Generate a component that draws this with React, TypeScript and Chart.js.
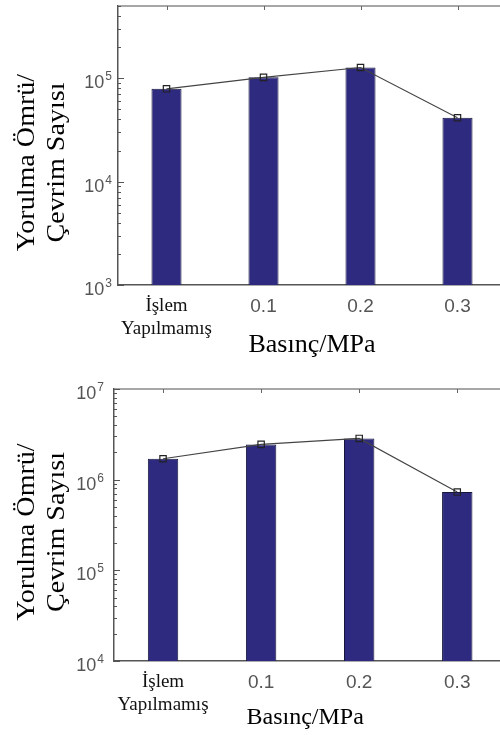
import React, { useEffect, useRef } from 'react';
import { Chart, registerables } from 'chart.js';

Chart.register(...registerables);

// ---- data ----
const categories: (string | string[])[] = [['İşlem', 'Yapılmamış'], '0.1', '0.2', '0.3'];
const topLife = [79000, 102000, 127000, 41500];
const bottomLife = [1700000, 2450000, 2850000, 730000];
const topRange = [1e3, 5e5];
const bottomRange = [1e4, 1e7];
const tickBase = '10';
const topTickValues = [1e3, 1e4, 1e5];
const topTickExponents = ['3', '4', '5'];
const bottomTickValues = [1e4, 1e5, 1e6, 1e7];
const bottomTickExponents = ['4', '5', '6', '7'];
const yTitleLines = ['Yorulma Ömrü/', 'Çevrim Sayısı'];
const xTitleText = 'Basınç/MPa';

const SANS = '"Liberation Sans", Arial, Helvetica, sans-serif';
const SERIF = '"Liberation Serif", "Times New Roman", Times, serif';

type Layout = {
  canvasTop: number;
  height: number;
  padTop: number;
  padRight: number;
  yWidth: number;
  xHeight: number;
  labelGap: number;
  yTitleShift: number;
  xTitleShiftX: number;
  xTitleShiftY: number;
  xTitleSize: number;
};

function makeDecor(tickValues: number[], tickExps: string[], L: Layout) {
  return {
    id: 'decor',
    afterDraw(chart: any) {
      const { ctx, chartArea: a, scales } = chart;
      const x = scales.x;
      const y = scales.y;
      ctx.save();
      // top frame line
      ctx.strokeStyle = '#8a8a8a';
      ctx.lineWidth = 1.5;
      ctx.beginPath();
      ctx.moveTo(a.left, a.top);
      ctx.lineTo(a.right + 10, a.top);
      ctx.stroke();
      // top category ticks
      ctx.strokeStyle = '#666';
      ctx.lineWidth = 1;
      x.ticks.forEach((_: any, i: number) => {
        const px = Math.round(x.getPixelForTick(i)) + 0.5;
        ctx.beginPath();
        ctx.moveTo(px, a.top);
        ctx.lineTo(px, a.top + 4);
        ctx.stroke();
      });
      // y minor / major ticks inside
      const lo = Math.floor(Math.log10(y.min));
      const hi = Math.ceil(Math.log10(y.max));
      ctx.strokeStyle = '#555';
      for (let e = lo; e <= hi; e++) {
        for (let k = 1; k <= 9; k++) {
          const v = k * Math.pow(10, e);
          if (v < y.min * 0.999 || v > y.max * 1.001) continue;
          const py = Math.round(y.getPixelForValue(v)) + 0.5;
          const len = k === 1 ? 6 : 3;
          ctx.beginPath();
          ctx.moveTo(a.left, py);
          ctx.lineTo(a.left + len, py);
          ctx.stroke();
        }
      }
      // y tick labels with superscript
      ctx.fillStyle = '#555';
      ctx.textAlign = 'left';
      ctx.textBaseline = 'alphabetic';
      tickValues.forEach((v, i) => {
        const py = y.getPixelForValue(v);
        ctx.font = `12px ${SANS}`;
        const ew = ctx.measureText(tickExps[i]).width;
        ctx.font = `18px ${SANS}`;
        const bw = ctx.measureText(tickBase).width;
        const right = a.left - L.labelGap;
        ctx.fillText(tickBase, right - ew - bw - 1, py + 10);
        ctx.font = `12px ${SANS}`;
        ctx.fillText(tickExps[i], right - ew, py + 2);
      });
      // y title
      ctx.fillStyle = '#000';
      ctx.font = `26px ${SERIF}`;
      ctx.textAlign = 'center';
      ctx.textBaseline = 'middle';
      const cy = (a.top + a.bottom) / 2 + L.yTitleShift;
      const xs = [27, 57];
      yTitleLines.forEach((line, i) => {
        ctx.save();
        ctx.translate(xs[i], cy);
        ctx.rotate(-Math.PI / 2);
        ctx.scale(1.08, 1);
        ctx.fillText(line, 0, 0);
        ctx.restore();
      });
      // x title
      ctx.font = `${L.xTitleSize}px ${SERIF}`;
      ctx.fillText(xTitleText, (a.left + a.right) / 2 + L.xTitleShiftX, a.bottom + L.xTitleShiftY);
      ctx.restore();
    },
  };
}

function Panel(props: {
  values: number[];
  range: number[];
  tickValues: number[];
  tickExps: string[];
  L: Layout;
}) {
  const ref = useRef<HTMLCanvasElement>(null);
  const { values, range, tickValues, tickExps, L } = props;
  useEffect(() => {
    const chart = new Chart(ref.current as HTMLCanvasElement, {
      type: 'bar',
      data: {
        labels: categories as any,
        datasets: [
          {
            type: 'line',
            data: values,
            borderColor: '#444',
            borderWidth: 1.1,
            pointStyle: 'rect',
            pointRadius: 4.5,
            pointBorderColor: '#222',
            pointBackgroundColor: 'rgba(0,0,0,0)',
            pointBorderWidth: 1.2,
            tension: 0,
            order: 0,
          } as any,
          {
            type: 'bar',
            data: values,
            backgroundColor: '#2e2a80',
            borderColor: '#17163d',
            borderWidth: 1,
            barPercentage: 0.31,
            categoryPercentage: 1,
            order: 1,
          } as any,
        ],
      },
      options: {
        responsive: false,
        animation: false,
        devicePixelRatio: 1,
        layout: { padding: { left: 0, top: L.padTop, right: L.padRight, bottom: 0 } },
        plugins: { legend: { display: false }, tooltip: { enabled: false } },
        scales: {
          x: {
            type: 'category',
            grid: { display: false, drawTicks: false },
            border: { display: true, color: '#555', width: 1.5 },
            ticks: {
              padding: 10,
              maxRotation: 0,
              autoSkip: false,
              font: (c: any) =>
                c.index === 0
                  ? { family: SERIF, size: 19, lineHeight: 1.2 }
                  : { family: SANS, size: 19, lineHeight: 1.2 },
              color: (c: any) => (c.index === 0 ? '#111' : '#555'),
            },
            afterFit: (s: any) => {
              s.height = L.xHeight;
            },
          },
          y: {
            type: 'logarithmic',
            min: range[0],
            max: range[1],
            grid: { display: false, drawTicks: false },
            border: { display: true, color: '#555', width: 1.5 },
            ticks: { display: false },
            afterFit: (s: any) => {
              s.width = L.yWidth;
            },
          },
        },
      } as any,
      plugins: [makeDecor(tickValues, tickExps, L)],
    });
    return () => chart.destroy();
  }, []);
  return (
    <canvas
      ref={ref}
      width={512}
      height={L.height}
      style={{ position: 'absolute', left: 0, top: L.canvasTop, width: 512, height: L.height, display: 'block' }}
    />
  );
}

const topLayout: Layout = {
  canvasTop: 0,
  height: 365,
  padTop: 6,
  padRight: 6,
  yWidth: 118,
  xHeight: 80,
  labelGap: 6,
  yTitleShift: 17,
  xTitleShiftX: 0,
  xTitleShiftY: 60,
  xTitleSize: 26,
};

const bottomLayout: Layout = {
  canvasTop: 365,
  height: 370,
  padTop: 24,
  padRight: 3,
  yWidth: 114,
  xHeight: 74,
  labelGap: 10,
  yTitleShift: 7,
  xTitleShiftX: -5,
  xTitleShiftY: 57,
  xTitleSize: 24,
};

export default function App() {
  return (
    <div
      style={{
        position: 'fixed',
        left: 0,
        top: 0,
        width: 500,
        height: 735,
        overflow: 'hidden',
        background: '#fff',
      }}
    >
      <Panel values={topLife} range={topRange} tickValues={topTickValues} tickExps={topTickExponents} L={topLayout} />
      <Panel
        values={bottomLife}
        range={bottomRange}
        tickValues={bottomTickValues}
        tickExps={bottomTickExponents}
        L={bottomLayout}
      />
    </div>
  );
}
